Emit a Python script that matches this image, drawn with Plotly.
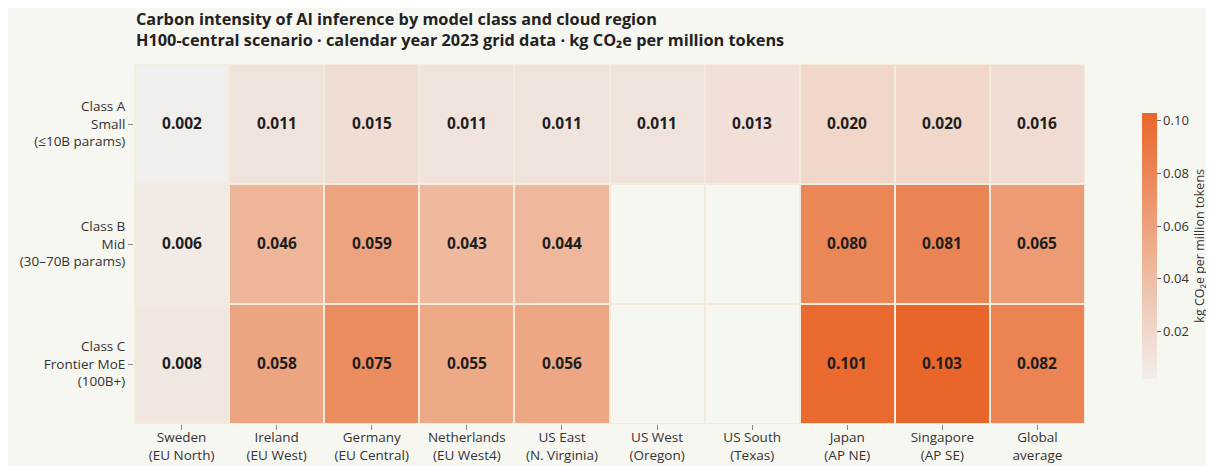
import numpy as np
import plotly.graph_objects as go

regions = ["Sweden<br>(EU North)", "Ireland<br>(EU West)", "Germany<br>(EU Central)",
           "Netherlands<br>(EU West4)", "US East<br>(N. Virginia)", "US West<br>(Oregon)",
           "US South<br>(Texas)", "Japan<br>(AP NE)", "Singapore<br>(AP SE)", "Global<br>average"]
classes = ["Class A<br>Small<br>(≤10B params)", "Class B<br>Mid<br>(30–70B params)",
           "Class C<br>Frontier MoE<br>(100B+)"]

class_a = [0.002, 0.011, 0.015, 0.011, 0.011, 0.011, 0.013, 0.020, 0.020, 0.016]
class_b = [0.006, 0.046, 0.059, 0.043, 0.044, None, None, 0.080, 0.081, 0.065]
class_c = [0.008, 0.058, 0.075, 0.055, 0.056, None, None, 0.101, 0.103, 0.082]

rows = [class_a, class_b, class_c]
z = np.array([[np.nan if v is None else v for v in r] for r in rows], dtype=float)
text = [["" if v is None else f"{v:.3f}" for v in r] for r in rows]
missing = np.where(np.isnan(z), 1.0, np.nan)

fig = go.Figure()
fig.add_trace(go.Heatmap(
    z=missing, x=regions, y=classes, xgap=2, ygap=2,
    colorscale=[[0, "#f7f7f2"], [1, "#f7f7f2"]], showscale=False, hoverinfo="skip"))
fig.add_trace(go.Heatmap(
    z=z, x=regions, y=classes, xgap=2, ygap=2,
    text=text, texttemplate="<b>%{text}</b>",
    textfont=dict(size=15.5, color="#1e1e1e", family="Open Sans"),
    colorscale=[[0, "#f1efed"], [0.5, "#eeac8c"], [1, "#e9662a"]],
    zmin=0.002, zmax=0.103,
    colorbar=dict(
        title=dict(text="kg CO₂e per million tokens", side="right",
                   font=dict(size=12.5, color="#333")),
        thickness=15, len=0.795, x=1.06, xanchor="left", xpad=0, y=0.495,
        tickvals=[0.02, 0.04, 0.06, 0.08, 0.10], ticktext=["0.02", "0.04", "0.06", "0.08", "0.10"],
        ticks="outside", ticklen=4, tickcolor="#666",
        tickfont=dict(size=13, color="#333"), outlinewidth=0),
))

fig.update_layout(
    width=1214, height=466,
    margin=dict(l=126, r=137, t=56, b=50),
    paper_bgcolor="#f7f7f2", plot_bgcolor="#f3ecdd",
    font=dict(family="Open Sans", size=13.5, color="#333"),
    annotations=[dict(
        text="<b>Carbon intensity of AI inference by model class and cloud region<br>"
             "H100-central scenario · calendar year 2023 grid data · kg CO₂e per million tokens</b>",
        x=0, xref="paper", xanchor="left", y=1, yref="paper", yanchor="bottom", yshift=11,
        align="left", showarrow=False, font=dict(size=16.3, color="#222"))],
)
fig.update_xaxes(showgrid=False, zeroline=False, ticks="outside", ticklen=5, tickcolor="#888",
                 automargin=False, ticklabelstandoff=-4, tickfont=dict(size=13.5, color="#333"))
fig.update_yaxes(showgrid=False, zeroline=False, autorange="reversed", ticks="outside",
                 automargin=False, ticklen=5, tickcolor="#888", tickfont=dict(size=13.5, color="#333"))

fig.write_html("out.html")
